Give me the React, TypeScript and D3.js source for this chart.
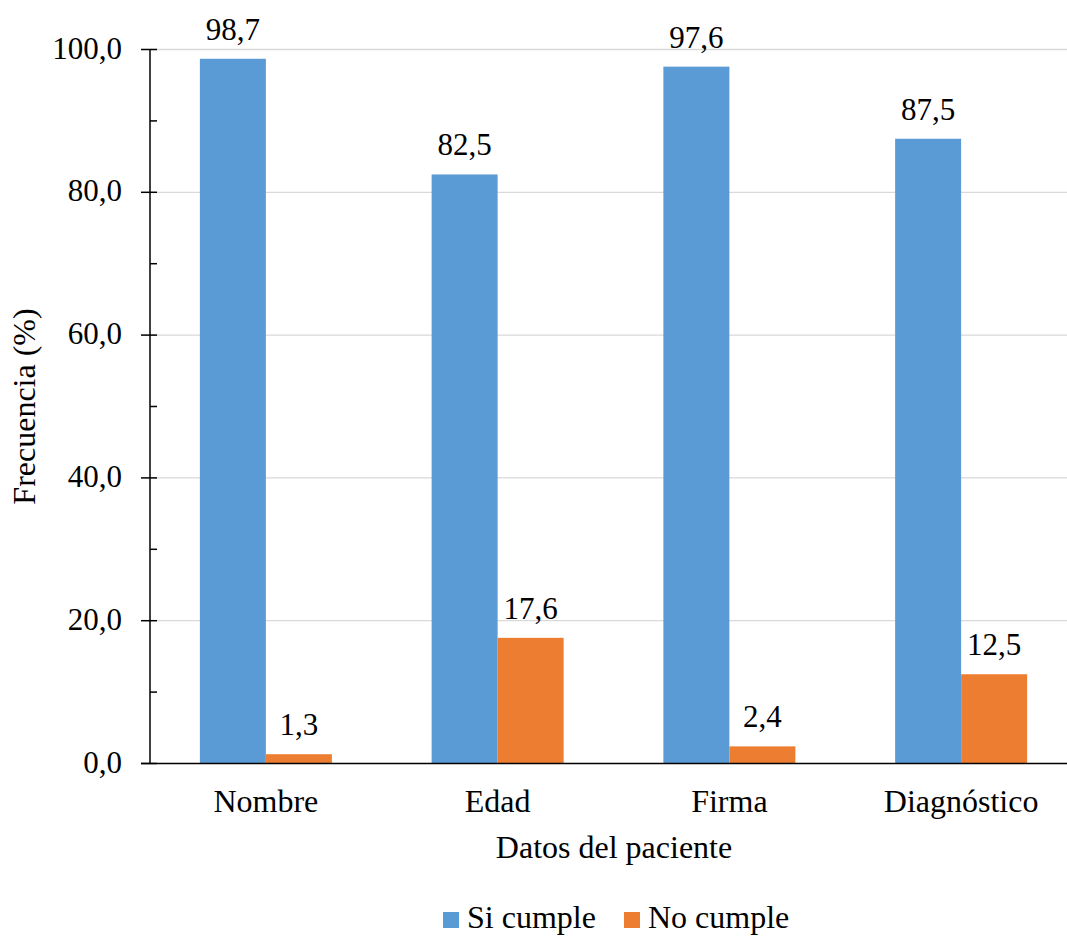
import React from "react";
import * as d3 from "d3";

const categories = ["Nombre", "Edad", "Firma", "Diagnóstico"];
const siCumple = [98.7, 82.5, 97.6, 87.5];
const noCumple = [1.3, 17.6, 2.4, 12.5];
const seriesNames = ["Si cumple", "No cumple"];
const colors = ["#5B9BD5", "#ED7D31"];
const yTicks = [0, 20, 40, 60, 80, 100];
const yMinorTicks = [10, 30, 50, 70, 90];

const W = 1067, H = 938;
const left = 150, right = 1077, top = 49.5, bottom = 763.5;
const font = "'Times New Roman', 'Liberation Serif', serif";
const fmt = (v: number) => v.toFixed(1).replace(".", ",");

export default function App() {
  const x = d3.scaleBand<string>().domain(categories).range([left, right]).paddingInner(0).paddingOuter(0);
  const y = d3.scaleLinear().domain([0, 100]).range([bottom, top]);
  const inner = d3.scaleBand<string>().domain(seriesNames).range([0, 132]);
  const groupOffset = (x.bandwidth() - 132) / 2;
  const series = [siCumple, noCumple];
  const ns = { fontFamily: font, fontSize: 31, fill: "#000" } as React.CSSProperties;
  const ts = { fontFamily: font, fontSize: 32, fill: "#000" } as React.CSSProperties;

  return (
    <svg width={W} height={H} style={{ position: "absolute", left: 0, top: 0, background: "#fff" }}>
      {yTicks.filter(t => t > 0).map(t => (
        <line key={t} x1={left} x2={right} y1={y(t)} y2={y(t)} stroke="#d9d9d9" strokeWidth={1.3} />
      ))}
      {series.map((vals, si) =>
        vals.map((v, i) => (
          <rect key={`${si}-${i}`}
            x={(x(categories[i]) as number) + groupOffset + (inner(seriesNames[si]) as number)}
            y={y(v)} width={inner.bandwidth()} height={y(0) - y(v)} fill={colors[si]} />
        ))
      )}
      {series.map((vals, si) =>
        vals.map((v, i) => (
          <text key={`l${si}-${i}`}
            x={(x(categories[i]) as number) + groupOffset + (inner(seriesNames[si]) as number) + inner.bandwidth() / 2}
            y={y(v) - 19} textAnchor="middle" style={ns}>{fmt(v)}</text>
        ))
      )}
      <line x1={left} x2={left} y1={top} y2={bottom} stroke="#000" strokeWidth={1.5} />
      {yTicks.map(t => (
        <g key={t}>
          <line x1={left - 9} x2={left + 7} y1={y(t)} y2={y(t)} stroke="#000" strokeWidth={1.5} />
          <text x={122} y={y(t) + 9} textAnchor="end" style={ns}>{fmt(t)}</text>
        </g>
      ))}
      {yMinorTicks.map(t => (
        <line key={t} x1={left} x2={left + 7} y1={y(t)} y2={y(t)} stroke="#000" strokeWidth={1.5} />
      ))}
      <line x1={left - 9} x2={right} y1={bottom} y2={bottom} stroke="#000" strokeWidth={1.5} />
      {categories.map(c => (
        <text key={c} x={(x(c) as number) + x.bandwidth() / 2} y={812} textAnchor="middle" style={ts}>{c}</text>
      ))}
      <text x={614} y={858} textAnchor="middle" style={ts}>Datos del paciente</text>
      <text transform={`translate(35, ${(top + bottom) / 2}) rotate(-90)`} textAnchor="middle" style={ts}>Frecuencia (%)</text>
      {seriesNames.map((n, i) => {
        const lx = i === 0 ? 443 : 624;
        return (
          <g key={n}>
            <rect x={lx} y={912} width={16} height={16} fill={colors[i]} />
            <text x={lx + 24} y={928} style={ts}>{n}</text>
          </g>
        );
      })}
    </svg>
  );
}
